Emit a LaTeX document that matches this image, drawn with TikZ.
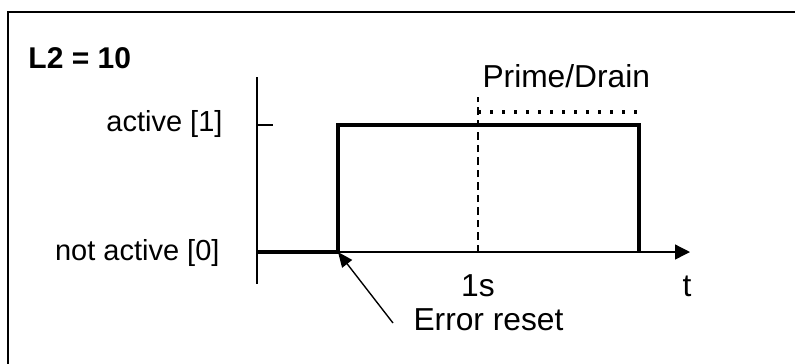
\documentclass[tikz,border=0pt]{standalone}
\usepackage{fontspec}
\setmainfont{Liberation Sans}
\usetikzlibrary{positioning, arrows.meta}
\tikzstyle{lbl} = [
inner sep=0pt,
font=\fontsize{11.6}{14}\selectfont
]
\tikzstyle{biglbl} = [
inner sep=0pt,
font=\fontsize{12.7}{15}\selectfont
]
\tikzstyle{axis} = [line width=0.55pt]
\tikzstyle{signal} = [line width=1.4pt]
\tikzstyle{arrow}=[-{Triangle[length=6pt,width=6pt]}]
\tikzstyle{pointer}=[-{Triangle[length=6pt,width=5pt]}]

\begin{document}
\begin{tikzpicture}[x=0.4pt,y=-0.4pt]
        
        \useasboundingbox (0,0) rectangle (795,363);
        \clip (0,0) rectangle (795,363);
        \draw [line width=0.7pt] (8,12) rectangle (805,375);
        
        \coordinate (ytop) at (257,77);
        \coordinate (ybot) at (257,284);
        \coordinate (origin) at (257,252);
        \coordinate (tick) at (257,125);
        \coordinate (rise) at (338,252);
        \coordinate (fall) at (639,252);
        \coordinate (tend) at (690,252);
        \coordinate (mark) at (478,252);
        \coordinate (marktop) at (478,97);
        \coordinate (tail) at (393,323);
        
        \node (title) [lbl, anchor=base west, font=\fontsize{12}{14}\selectfont\bfseries] at (28,68) {L2 = 10};
        
        \node (high) [lbl, anchor=mid east] at (223,125) {active [1]};
        
        \node (low) [lbl, anchor=mid east] at (220,254) {not active [0]};
        
        \node (prime) [biglbl, anchor=base west] at (482,87) {Prime/Drain};
        
        \node (onesec) [biglbl, anchor=base] at (478,296) {1s};
        
        \node (time) [biglbl, anchor=base] at (687,296) {t};
        
        \node (reset) [biglbl, anchor=base west] at (413,330) {Error reset};
        
        \draw [axis] (ytop)--(ybot);
        
        \draw [axis] (tick)--++(16,0);
        
        \draw [axis, arrow] (rise)--(tend);
        
        \draw [signal] (origin)--(rise) |- (tick -| fall)--(fall);
        
        \draw [axis, dash pattern=on 3pt off 2pt] (mark)--(marktop);
        
        \draw [line width=1.5pt, dash pattern=on 1.3pt off 3.5pt] (478,112)--(637,112);
        
        \draw [axis, pointer] (tail)--(rise);
        
        \end{tikzpicture}
\end{document}
